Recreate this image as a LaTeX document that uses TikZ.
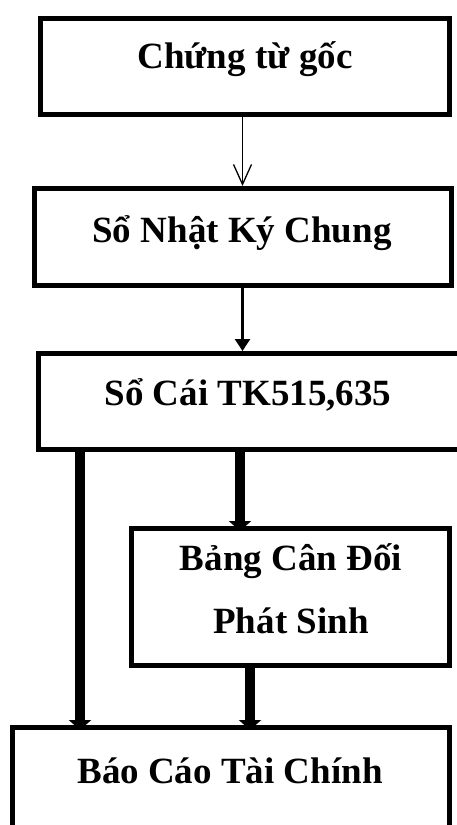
\documentclass[tikz,border=0pt]{standalone}
\usepackage{fontspec}
\setmainfont{Liberation Serif}
\usetikzlibrary{arrows.meta}
\tikzset{
  box/.style={draw=black,line width=5pt,inner sep=0pt},
  lbl/.style={font=\fontsize{37}{63}\selectfont\bfseries,inner sep=0pt,anchor=base,align=center},
  thinarr/.style={-{Straight Barb[length=20pt,width=18pt]},line width=1.3pt},
  midarr/.style={-{Triangle[length=12pt,width=15pt]},line width=2.5pt},
  thickarr/.style={-{Triangle[length=10pt,width=22pt]},line width=9.5pt,shorten >=-5pt}
}
\begin{document}
\begin{tikzpicture}[x=1pt,y=-1pt]
\useasboundingbox (0,0) rectangle (456,825);
% boxes
\node[box,minimum width=409pt,minimum height=96.5pt] (goc) at (245,66.25) {};
\node[box,minimum width=417pt,minimum height=97pt] (nkc) at (242.5,237) {};
\node[box,minimum width=424pt,minimum height=96pt] (cai) at (250.5,401.5) {};
\node[box,minimum width=318pt,minimum height=137pt] (bcd) at (290.5,597) {};
\node[box,minimum width=437pt,minimum height=104pt] (bctc) at (231,779.5) {};
% texts
\node[lbl] (goc-t) at (245,68) {Chứng từ gốc};
\node[lbl] (nkc-t) at (242,242) {Sổ Nhật Ký Chung};
\node[lbl] (cai-t) at (248,405) {Sổ Cái TK515,635};
\node[lbl] (bcd-t) at (291,633) {Bảng Cân Đối\\Phát Sinh};
\node[lbl] (bctc-t) at (230,783) {Báo Cáo Tài Chính};
% connectors
\coordinate (lx) at (80,0);
\coordinate (ux) at (240,0);
\coordinate (bx) at (250,0);
\draw[thinarr] (goc.south -| nkc.north) -- (nkc.north);
\draw[midarr] (nkc.south) -- (cai.north -| nkc.south);
\draw[thickarr] (cai.south -| ux) -- (bcd.north -| ux);
\draw[thickarr] (cai.south -| lx) -- (bctc.north -| lx);
\draw[thickarr] (bcd.south -| bx) -- (bctc.north -| bx);
\end{tikzpicture}
\end{document}
